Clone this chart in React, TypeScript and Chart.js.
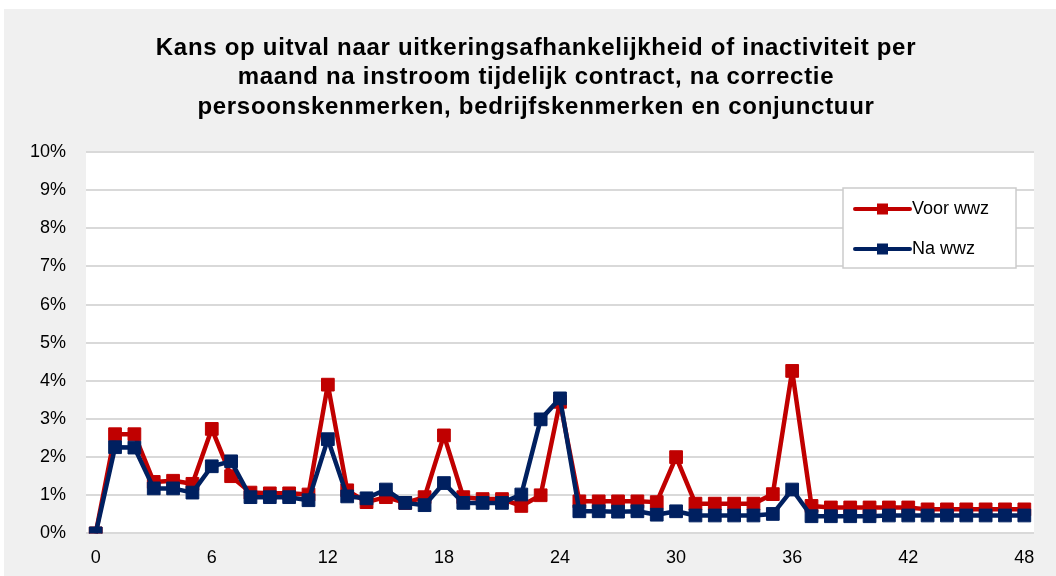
import React, { useEffect, useRef } from "react";
import { Chart, registerables } from "chart.js";

Chart.register(...registerables);

const months: string[] = Array.from({ length: 49 }, (_, i) => String(i));
const voorWwz: number[] = [0, 2.6, 2.6, 1.35, 1.38, 1.3, 2.74, 1.5, 1.07, 1.05, 1.05, 1.02, 3.9, 1.13, 0.82, 0.95, 0.8, 0.95, 2.57, 0.95, 0.9, 0.9, 0.72, 1.0, 3.45, 0.84, 0.84, 0.84, 0.84, 0.82, 2.0, 0.78, 0.78, 0.78, 0.78, 1.03, 4.26, 0.72, 0.68, 0.68, 0.68, 0.68, 0.68, 0.63, 0.63, 0.63, 0.63, 0.63, 0.63];
const naWwz: number[] = [0, 2.26, 2.25, 1.18, 1.18, 1.07, 1.76, 1.89, 0.95, 0.95, 0.95, 0.87, 2.47, 0.97, 0.92, 1.15, 0.8, 0.74, 1.32, 0.8, 0.8, 0.8, 1.02, 2.99, 3.54, 0.58, 0.58, 0.57, 0.58, 0.49, 0.58, 0.47, 0.47, 0.47, 0.47, 0.51, 1.15, 0.45, 0.45, 0.45, 0.45, 0.47, 0.47, 0.47, 0.47, 0.47, 0.47, 0.47, 0.47];
const seriesNames: string[] = ["Voor wwz", "Na wwz"];
const titleLines: string[] = [
  "Kans op uitval naar uitkeringsafhankelijkheid of inactiviteit per",
  "maand na instroom tijdelijk contract, na correctie",
  "persoonskenmerken, bedrijfskenmerken en conjunctuur",
];

const RED = "#C00000";
const NAVY = "#002060";
const FONT = "'Liberation Sans', Arial, sans-serif";

export default function App() {
  const ref = useRef<HTMLCanvasElement | null>(null);

  useEffect(() => {
    if (!ref.current) return;
    const bgPlugin = {
      id: "plotBg",
      beforeDraw(chart: any) {
        const { ctx, chartArea } = chart;
        ctx.save();
        ctx.fillStyle = "#ffffff";
        ctx.fillRect(chartArea.left, chartArea.top, chartArea.right - chartArea.left, chartArea.bottom - chartArea.top);
        ctx.restore();
      },
    };
    const titlePlugin = {
      id: "wideTitle",
      afterDraw(chart: any) {
        const { ctx, width } = chart;
        ctx.save();
        ctx.fillStyle = "#000000";
        ctx.font = `bold 24px ${FONT}`;
        (ctx as any).letterSpacing = "0.7px";
        ctx.textAlign = "center";
        ctx.textBaseline = "middle";
        titleLines.forEach((line, i) => {
          ctx.fillText(line, width / 2 + 6, 39 + i * 29.5);
        });
        ctx.restore();
      },
    };
    const legendPlugin = {
      id: "boxLegend",
      afterDraw(chart: any) {
        const { ctx, chartArea } = chart;
        const x0 = chartArea.right - 191;
        const y0 = chartArea.top + 36;
        const w = 173;
        const h = 80;
        ctx.save();
        ctx.fillStyle = "#ffffff";
        ctx.fillRect(x0, y0, w, h);
        ctx.strokeStyle = "#cccccc";
        ctx.lineWidth = 1.5;
        ctx.strokeRect(x0, y0, w, h);
        const items = [
          { name: seriesNames[0], color: RED },
          { name: seriesNames[1], color: NAVY },
        ];
        items.forEach((it, i) => {
          const cy = y0 + 21 + i * 40;
          ctx.strokeStyle = it.color;
          ctx.lineWidth = 4;
          ctx.lineCap = "round";
          ctx.beginPath();
          ctx.moveTo(x0 + 12, cy);
          ctx.lineTo(x0 + 67, cy);
          ctx.stroke();
          ctx.fillStyle = it.color;
          ctx.fillRect(x0 + 39.5 - 5.5, cy - 5.5, 11, 11);
          ctx.fillStyle = "#000000";
          ctx.font = `18px ${FONT}`;
          ctx.textBaseline = "middle";
          ctx.textAlign = "left";
          ctx.fillText(it.name, x0 + 69, cy);
        });
        ctx.restore();
      },
    };

    const chart = new Chart(ref.current, {
      type: "line",
      data: {
        labels: months,
        datasets: [
          {
            label: seriesNames[0],
            data: voorWwz,
            borderColor: RED,
            backgroundColor: RED,
            borderWidth: 4.5,
            borderJoinStyle: "round",
            pointStyle: "rect",
            pointRadius: 9,
            pointBorderWidth: 1,
            pointBorderColor: RED,
            pointBackgroundColor: RED,
            tension: 0,
            order: 1,
          },
          {
            label: seriesNames[1],
            data: naWwz,
            borderColor: NAVY,
            backgroundColor: NAVY,
            borderWidth: 4.5,
            borderJoinStyle: "round",
            pointStyle: "rect",
            pointRadius: 9,
            pointBorderWidth: 1,
            pointBorderColor: NAVY,
            pointBackgroundColor: NAVY,
            tension: 0,
            order: 0,
          },
        ],
      },
      options: {
        animation: false,
        responsive: false,
        maintainAspectRatio: false,
        layout: { padding: { left: 6, right: 22, top: 143, bottom: -7 } },
        plugins: {
          legend: { display: false },
          tooltip: { enabled: false },
          title: { display: false },
        },
        scales: {
          x: {
            offset: true,
            grid: { display: false, drawTicks: false },
            border: { display: false },
            ticks: {
              autoSkip: false,
              maxRotation: 0,
              padding: 14,
              color: "#000000",
              font: { family: FONT, size: 18 },
              callback: (_v: any, i: number) => (i % 6 === 0 ? months[i] : ""),
            },
          },
          y: {
            min: 0,
            max: 10,
            grid: { color: "#d9d9d9", lineWidth: 2, drawTicks: false },
            border: { display: false },
            ticks: {
              stepSize: 1,
              padding: 20,
              color: "#000000",
              font: { family: FONT, size: 18 },
              callback: (v: any) => `${v}%`,
            },
          },
        },
      },
      plugins: [bgPlugin, legendPlugin, titlePlugin],
    });
    return () => chart.destroy();
  }, []);

  return (
    <div style={{ position: "absolute", left: 4, top: 9, width: 1052, height: 567, background: "#f0f0f0" }}>
      <canvas ref={ref} width={1052} height={567} style={{ display: "block" }} />
    </div>
  );
}
